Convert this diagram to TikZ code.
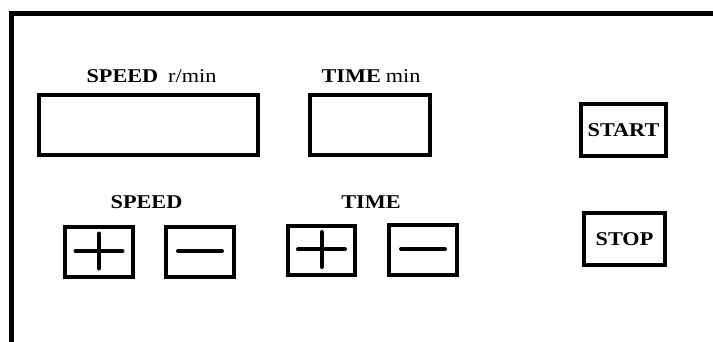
\documentclass[tikz,border=0pt]{standalone}
\usepackage{fontspec}
\setmainfont{Liberation Serif}[FakeStretch=1.14]
\usepackage{tikz}
\usetikzlibrary{positioning, calc}
\newcommand{\plusmark}[1]
{
	\draw[sign] ($ (#1.center)+(-23.5,-1) $) -- +(47,0) ($ (#1.center)+(0,-18.5) $) -- +(0,35)
}
\newcommand{\minusmark}[1]
{
	\draw[sign] ($ (#1.center)+(-22,-1) $) -- +(44,0)
}

\begin{document}
\begin{tikzpicture}[x=1pt, y=-1pt,
every node/.append style={font=\fontsize{19.5}{22}\selectfont, inner sep=0pt},
panel/.style={draw, line width=4.8pt, shape=rectangle},
sign/.style={line width=4pt, line cap=round}]

\useasboundingbox (0,0) rectangle (713,342);
\draw[line width=5pt] (11.5,342) -- (11.5,13.5) -- (713,13.5);

\node[panel, minimum width=219pt, minimum height=60pt] at (148.5, 125) (SpeedDisp){};
\node[panel, minimum width=120pt, minimum height=60pt] at (370, 125)   (TimeDisp){};
\node[panel, minimum width=85pt,  minimum height=52pt] at (623.5, 130) (Start){\textbf{START}};
\node[panel, minimum width=81pt,  minimum height=52pt] at (624.5, 239) (Stop){\textbf{STOP}};

\node[anchor=base] at (151.5, 83) (SpeedCap){\textbf{SPEED}\hspace{10pt}r/min};
\node[anchor=base] at (371, 83)   (TimeCap){\textbf{TIME}\hspace{5pt}min};
\node[anchor=base] at (146.5, 209) (SpeedKey){\textbf{SPEED}};
\node[anchor=base] at (371, 209)   (TimeKey){\textbf{TIME}};

\node[panel, minimum width=68pt, minimum height=50pt] at (99, 252)    (SpeedUp){};
\node[panel, minimum width=68pt, minimum height=50pt] at (200, 252)   (SpeedDown){};
\node[panel, minimum width=67pt, minimum height=49pt] at (321.5, 250.5) (TimeUp){};
\node[panel, minimum width=68pt, minimum height=50pt] at (423, 250)   (TimeDown){};

\plusmark{SpeedUp};
\minusmark{SpeedDown};
\plusmark{TimeUp};
\minusmark{TimeDown};
\end{tikzpicture}
\end{document}
